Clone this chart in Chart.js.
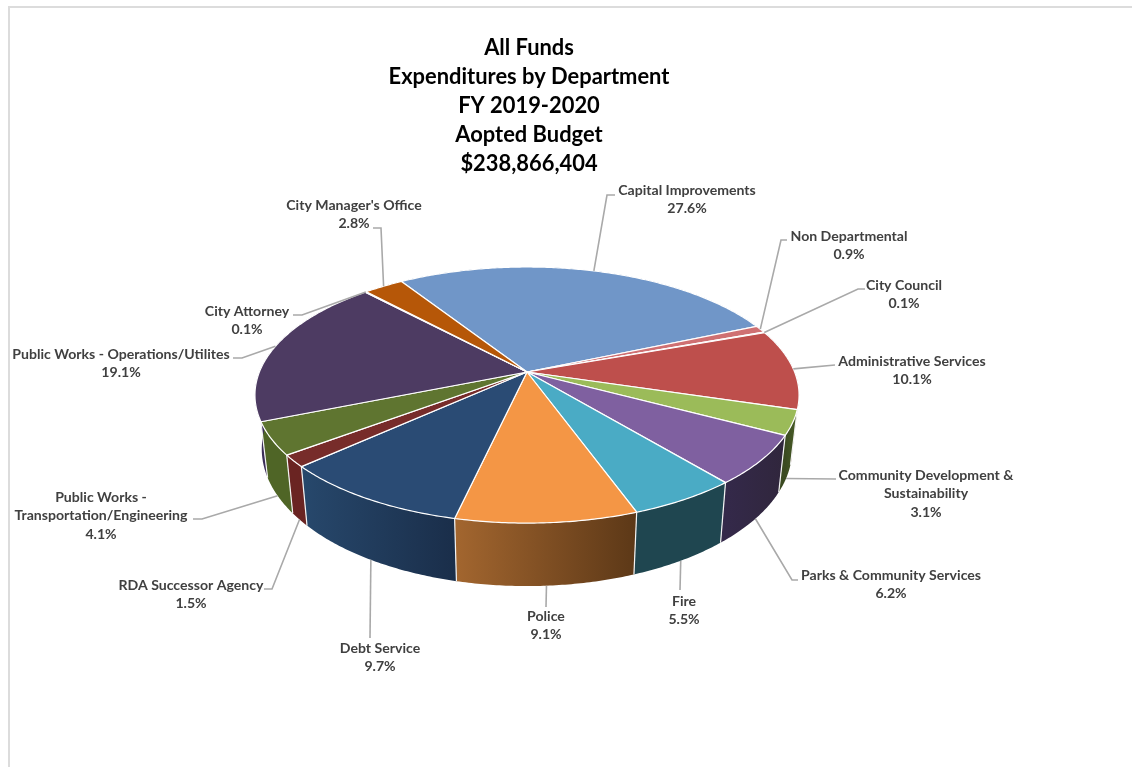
<!DOCTYPE html>
<html>
<head>
<meta charset="utf-8">
<title>All Funds Expenditures by Department</title>
<script src="https://cdn.jsdelivr.net/npm/chart.js@4"></script>
<style>
  html, body { margin: 0; padding: 0; background: #fff; overflow: hidden; }
  #wrap { position: relative; width: 1132px; height: 767px; }
  #frame { position: absolute; left: 8px; top: 6px; right: 0; bottom: 0; border-top: 2px solid #dcdcdc; border-left: 2px solid #dcdcdc; }
  canvas { position: absolute; left: 0; top: 0; display: block; }
</style>
</head>
<body>
<div id="wrap">
  <div id="frame"></div>
  <canvas id="pie" width="1132" height="767"></canvas>
</div>
<script>
const titleLines = ['All Funds', 'Expenditures by Department', 'FY 2019-2020', 'Aopted Budget', '$238,866,404'];

const categories = [
    'Capital Improvements',
    'Non Departmental',
    'City Council',
    'Administrative Services',
    'Community Development & Sustainability',
    'Parks & Community Services',
    'Fire',
    'Police',
    'Debt Service',
    'RDA Successor Agency',
    'Public Works - Transportation/Engineering',
    'Public Works - Operations/Utilites',
    'City Attorney',
    "City Manager's Office"
];
const percents = [27.6, 0.9, 0.1, 10.1, 3.1, 6.2, 5.5, 9.1, 9.7, 1.5, 4.1, 19.1, 0.1, 2.8];

// styles, same order as categories
const topColors = ['#7096C8', '#CF7072', '#E8B0AE', '#BE4F4C', '#9BBB59', '#7F60A0', '#4AABC5', '#F49645',
    '#2A4B74', '#772C2A', '#5F7530', '#4D3B62', '#A8C4E0', '#B65708'];
const sideColors = [
    ['#4A668C', '#4A668C'], ['#8C4C4E', '#8C4C4E'], ['#8C4C4E', '#8C4C4E'], ['#7F3432', '#7F3432'],
    ['#3A4A20', '#4A5E28'], ['#34294A', '#30263C'], ['#1F4650', '#1F4650'], ['#A3662F', '#5C3817'],
    ['#27486C', '#1A2E4A'], ['#6A2422', '#6A2422'], ['#4F6526', '#4F6526'], ['#3A2D58', '#3A2D58'],
    ['#3A2D58', '#3A2D58'], ['#7A3A06', '#7A3A06']
];

// label placement: wrapped text, centre x, first line y, leader elbow and end
const labelLayout = [
    { lines: ['Capital Improvements'], x: 687, y: 190, leader: [[607, 195], [615, 195]] },
    { lines: ['Non Departmental'], x: 849, y: 236, leader: [[781, 240], [787, 240]] },
    { lines: ['City Council'], x: 904, y: 285, leader: [[858, 289], [865, 289]] },
    { lines: ['Administrative Services'], x: 912, y: 361, leader: [[835, 365]] },
    { lines: ['Community Development &', 'Sustainability'], x: 926, y: 475, leader: [[836, 479]] },
    { lines: ['Parks & Community Services'], x: 891, y: 575, leader: [[792, 580], [798, 580]] },
    { lines: ['Fire'], x: 684, y: 601, leader: [[680, 590]] },
    { lines: ['Police'], x: 546, y: 616, leader: [[546, 607]] },
    { lines: ['Debt Service'], x: 380, y: 648, leader: [[370, 638]] },
    { lines: ['RDA Successor Agency'], x: 191, y: 585, leader: [[272, 589], [264, 589]] },
    { lines: ['Public Works -', 'Transportation/Engineering'], x: 101, y: 497, leader: [[202, 519], [193, 519]] },
    { lines: ['Public Works - Operations/Utilites'], x: 121, y: 354, leader: [[242, 358], [233, 358]] },
    { lines: ['City Attorney'], x: 247, y: 311, leader: [[302, 315], [293, 315]] },
    { lines: ["City Manager's Office"], x: 354, y: 205, leader: [[381, 228], [373, 228]] }
];

// perspective of the tilted disc
const disc = { cx: 527, cy: 372, a: 267.6, b: 123.9, p: -0.18 };
const floor = { sx: 0.975, sy: 1.07, y0: 424.4 };

function topPoint(angle) {
    const u = Math.cos(angle), v = Math.sin(angle);
    const w = 1 + disc.p * v;
    return [disc.cx + disc.a * u / w, disc.cy + disc.b * v / w];
}
function bottomPoint(angle) {
    const p = topPoint(angle);
    return [disc.cx + floor.sx * (p[0] - disc.cx), floor.y0 + floor.sy * (p[1] - disc.cy)];
}
function arcSteps(start, end) {
    const n = Math.max(2, Math.ceil((end - start) / 0.01));
    const out = [];
    for (let i = 0; i <= n; i++) out.push(start + (end - start) * i / n);
    return out;
}

const tiltedPie = {
    id: 'tiltedPie',
    beforeDatasetDraw(chart, args) {
        const ctx = chart.ctx;
        const arcs = args.meta.data;
        ctx.save();
        // outer wall first, the top face hides the back of it
        arcs.forEach(function(el, i) {
            const steps = arcSteps(el.startAngle, el.endAngle);
            const top = steps.map(topPoint);
            const bottom = steps.map(bottomPoint);
            const xs = top.map(p => p[0]);
            const g = ctx.createLinearGradient(Math.min(...xs), 0, Math.max(...xs), 0);
            g.addColorStop(0, sideColors[i][0]);
            g.addColorStop(1, sideColors[i][1]);
            ctx.beginPath();
            top.forEach((p, k) => k ? ctx.lineTo(p[0], p[1]) : ctx.moveTo(p[0], p[1]));
            bottom.reverse().forEach(p => ctx.lineTo(p[0], p[1]));
            ctx.closePath();
            ctx.fillStyle = g;
            ctx.fill();
        });
        // white seams between wall segments on the near side
        ctx.strokeStyle = '#f4f4f4';
        ctx.lineWidth = 1.2;
        arcs.forEach(function(el) {
            if (Math.sin(el.startAngle) < 0.02) return;
            const t = topPoint(el.startAngle), b = bottomPoint(el.startAngle);
            ctx.beginPath();
            ctx.moveTo(t[0], t[1]);
            ctx.lineTo(b[0], b[1]);
            ctx.stroke();
        });
        // top face
        arcs.forEach(function(el) {
            ctx.beginPath();
            ctx.moveTo(disc.cx, disc.cy);
            arcSteps(el.startAngle, el.endAngle).map(topPoint).forEach(p => ctx.lineTo(p[0], p[1]));
            ctx.closePath();
            ctx.fillStyle = el.options.backgroundColor;
            ctx.fill();
            ctx.strokeStyle = el.options.borderColor;
            ctx.lineWidth = el.options.borderWidth;
            ctx.lineJoin = 'round';
            ctx.stroke();
        });
        ctx.restore();
        return false;
    },
    afterDatasetsDraw(chart) {
        const ctx = chart.ctx;
        const arcs = chart.getDatasetMeta(0).data;
        ctx.save();
        arcs.forEach(function(el, i) {
            const place = labelLayout[i];
            const mid = (el.startAngle + el.endAngle) / 2;
            const start = Math.sin(mid) > 0.2 ? bottomPoint(mid) : topPoint(mid);
            ctx.beginPath();
            ctx.moveTo(start[0], start[1]);
            place.leader.forEach(p => ctx.lineTo(p[0], p[1]));
            ctx.strokeStyle = '#a9a9a9';
            ctx.lineWidth = 1.6;
            ctx.stroke();

            ctx.font = '700 14.1px Lato';
            ctx.fillStyle = '#404040';
            ctx.textAlign = 'center';
            ctx.textBaseline = 'middle';
            place.lines.concat(percents[i].toFixed(1) + '%').forEach(function(line, k) {
                ctx.fillText(line, place.x, place.y + k * 18.6);
            });
        });
        ctx.restore();
    }
};

const chart = new Chart(document.getElementById('pie').getContext('2d'), {
    type: 'pie',
    data: {
        labels: categories,
        datasets: [{
            data: percents,
            backgroundColor: topColors,
            borderColor: '#ffffff',
            borderWidth: 1.2
        }]
    },
    options: {
        responsive: false,
        animation: false,
        rotation: -32.7,
        layout: { padding: { left: 265, right: 339, top: 20, bottom: 60 } },
        plugins: {
            legend: { display: false },
            tooltip: { enabled: false },
            title: {
                display: true,
                fullSize: false,
                text: titleLines,
                color: '#000000',
                font: { family: 'Lato', size: 21.9, weight: '700', lineHeight: 1.324 },
                padding: { top: 13.5, bottom: 10 }
            }
        }
    },
    plugins: [tiltedPie]
});
</script>
</body>
</html>
